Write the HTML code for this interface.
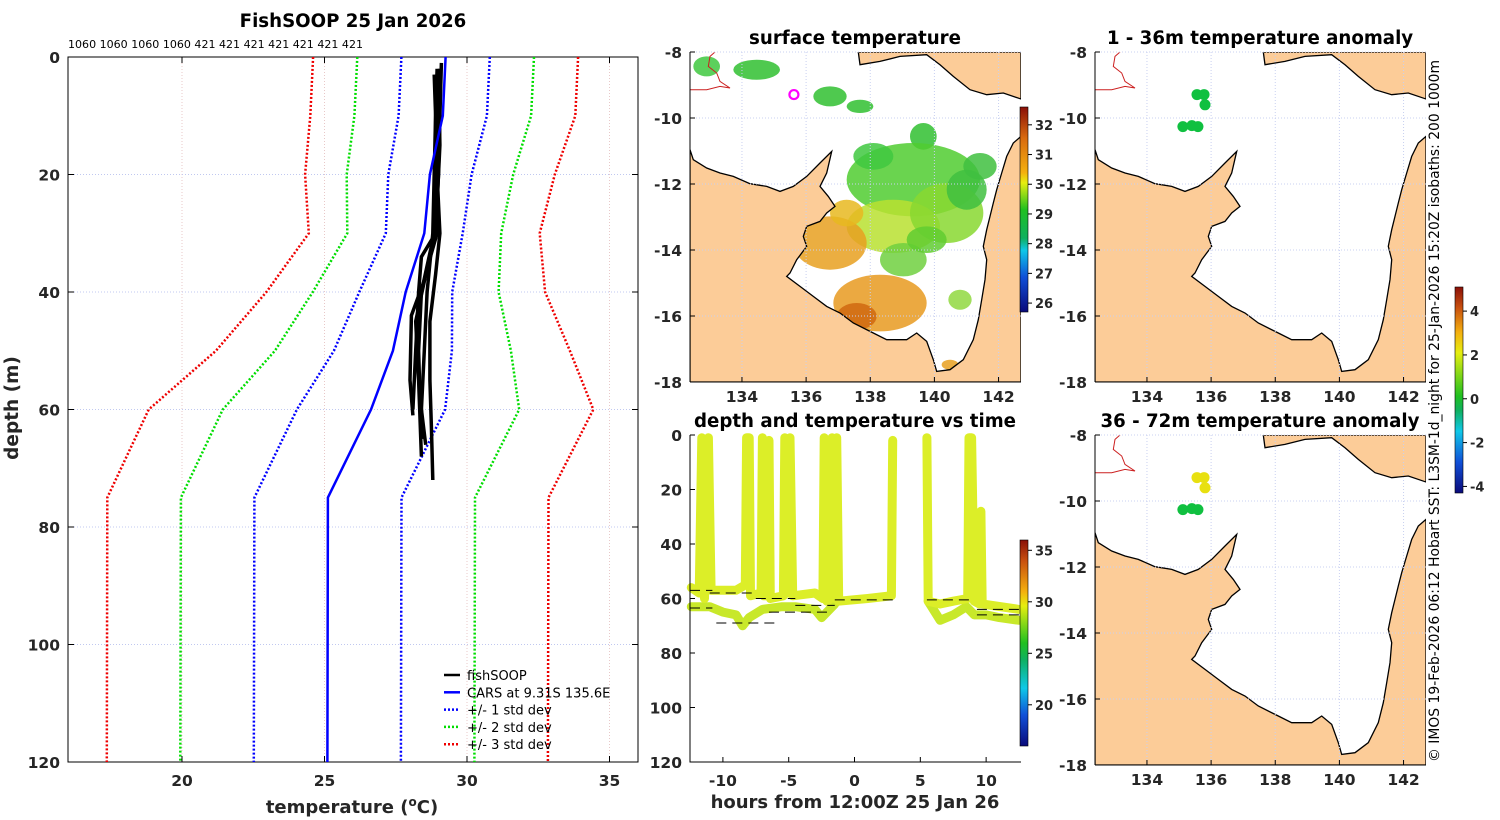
<!DOCTYPE html>
<html><head><meta charset="utf-8"><style>
html,body{margin:0;padding:0;background:#fff;}
svg{display:block;font-family:"DejaVu Sans","Liberation Sans",sans-serif;}
</style></head><body>
<svg id="fig" width="1500" height="820" viewBox="0 0 1500 820" xmlns="http://www.w3.org/2000/svg">
<defs>
<linearGradient id="sstGrad" x1="0" y1="1" x2="0" y2="0">
<stop offset="0" stop-color="#0a0a7a"/><stop offset="0.17" stop-color="#1050d8"/><stop offset="0.3" stop-color="#10c8e8"/><stop offset="0.36" stop-color="#10b060"/><stop offset="0.5" stop-color="#20c020"/><stop offset="0.63" stop-color="#e6ee10"/><stop offset="0.68" stop-color="#f4b010"/><stop offset="0.85" stop-color="#d86a10"/><stop offset="1" stop-color="#8a1008"/>
</linearGradient>
<linearGradient id="tGrad" x1="0" y1="1" x2="0" y2="0">
<stop offset="0" stop-color="#0a0a7a"/><stop offset="0.15" stop-color="#1050d8"/><stop offset="0.28" stop-color="#10c8e8"/><stop offset="0.42" stop-color="#10b060"/><stop offset="0.5" stop-color="#20c020"/><stop offset="0.68" stop-color="#e6ee10"/><stop offset="0.75" stop-color="#f4b010"/><stop offset="0.9" stop-color="#c85010"/><stop offset="1" stop-color="#8a1008"/>
</linearGradient>
<linearGradient id="aGrad" x1="0" y1="1" x2="0" y2="0">
<stop offset="0" stop-color="#0a0a7a"/><stop offset="0.15" stop-color="#1050d8"/><stop offset="0.3" stop-color="#10c8e8"/><stop offset="0.4" stop-color="#10b060"/><stop offset="0.47" stop-color="#20c020"/><stop offset="0.68" stop-color="#e6ee10"/><stop offset="0.78" stop-color="#f4b010"/><stop offset="0.9" stop-color="#c85010"/><stop offset="1" stop-color="#8a1008"/>
</linearGradient>
<clipPath id="clipMain"><rect x="68" y="57" width="570" height="705"/></clipPath>
<clipPath id="clipMap"><rect x="0" y="0" width="331" height="330"/></clipPath>
</defs>
</svg>
<script>
// ---------- main profile data ----------
const carsDepth = [0,10,20,30,40,50,60,75,120];
const carsMean  = [29.25,29.15,28.7,28.5,27.85,27.4,26.63,25.12,25.1];
const carsSd    = [1.55,1.55,1.46,1.35,1.63,2.07,2.6,2.58,2.58];
const prof1D=[2,10,20,30,40,50,60,65], prof1T=[28.95,28.9,28.85,28.8,28.6,28.5,28.4,28.45];
const prof2D=[1,10,20,30,34,40,50,60], prof2T=[29.1,29.05,29.0,28.9,28.4,28.3,28.2,28.1];
const prof3D=[3,10,20,30,36,45,55,68], prof3T=[28.85,28.9,28.9,28.95,28.6,28.2,28.3,28.4];
const prof4D=[2,15,25,32,38,44,55,61], prof4T=[29.0,29.05,28.95,28.8,28.5,28.05,28.0,28.1];
const prof5D=[4,20,30,37,45,55,63,72], prof5T=[28.9,28.95,29.05,28.9,28.7,28.7,28.75,28.8];
const prof6D=[2,10,20,30,40,50,58,66], prof6T=[29.05,29.0,28.9,28.85,28.4,28.3,28.35,28.55];
const tempTicks=[20,25,30,35];
const depthTicks=[0,20,40,60,80,100,120];
const topCounts=["1060","1060","1060","1060","421","421","421","421","421","421","421"];
// ---------- time plot data ----------
const traceAH=[-12.4,-11.8,-11.6,-11.4,-11.1,-10.9,-9,-8.3,-8.2,-8.0,-7.9,-7.1,-7.0,-6.9,-6.6,-6.5,-6.4,-5.4,-5.3,-5.1,-4.9,-4.7,-3,-2.4,-2.3,-2.1,-1.8,-1.7,-1.5,-1.35,-1.2,1,2.8,2.9];
const traceAD=[56,58,1,60,1,57,57,55,1,1,59,58,1,59,59,2,60,59,1,58,1,59,58,60,1,61,60,1,60,1,61,60,59,2];
const traceBH=[5.5,5.6,6.5,7.5,8.6,8.7,8.9,9.1,9.5,9.6,9.7,12.5];
const traceBD=[1,61,62,61,60,1,1,61,62,28,62,64];
const traceCH=[-12.4,-11,-10,-9,-8.5,-8,-7,-5.5,-4.5,-3,-2.5,-1.5];
const traceCD=[63,63,65,66,70,67,64,63,63,64,67,62];
const traceEH=[5.6,6.5,7.5,8.5,9.1,10,11,12.5];
const traceED=[61,68,66,63,66,66,67,68];
const dashH1=[-12.5,-12.5,-11,-10.5,-7.5,-6.5,-4.5,-1.5,5.5,9.3,9.3];
const dashH2=[-10.8,-10.8,-7.5,-6,-4.5,-2,-1.5,3,9,12.5,12.5];
const dashD=[57,63.5,58,69,60,65,62.5,60.5,60.5,64,66];
const hourTicks=[-10,-5,0,5,10];
// ---------- map data ----------
const lonTicks=[134,136,138,140,142];
const latTicks=[-8,-10,-12,-14,-16,-18];
const sstTicks=[26,27,28,29,30,31,32];
const tcTicks=[20,25,30,35];
const anomTicks=[-4,-2,0,2,4];
const dotLon=[135.56,135.78,135.81,135.12,135.4,135.59];
const dotLat=[-9.29,-9.29,-9.6,-10.26,-10.23,-10.26];
const anomUpper=[0.2,0.2,0.2,0.1,0.2,0.1];
const anomLower=[2.1,2.1,2.2,0.2,0.3,0.2];
const shipLon=135.62, shipLat=-9.29;

const NS='http://www.w3.org/2000/svg';
const svg=document.getElementById('fig');
function mk(tag,attrs,parent){const e=document.createElementNS(NS,tag);for(const k in attrs)e.setAttribute(k,attrs[k]);(parent||svg).appendChild(e);return e;}
function txt(s,attrs,parent){const e=mk('text',attrs,parent);e.textContent=s;return e;}

// ===== MAIN PROFILE PLOT =====
const X0=68,X1=638,Y0=57,Y1=762,T0=16,T1=36;
const xT=t=>X0+(t-T0)/(T1-T0)*(X1-X0);
const yD=d=>Y0+d/120*(Y1-Y0);
let e;
e=txt('FishSOOP 25 Jan 2026',{x:353,y:27,'text-anchor':'middle','font-size':18.2,'font-weight':'bold'});


e=txt(topCounts.join(' '),{x:68,y:48,'font-size':11,textLength:295,lengthAdjust:'spacingAndGlyphs'});


tempTicks.forEach(t=>{
  e=mk('line',{x1:xT(t),x2:xT(t),y1:Y0,y2:Y1,stroke:'#e8c8c8','stroke-width':1,'stroke-dasharray':'1,2'});
  
  
  e=mk('line',{x1:xT(t),x2:xT(t),y1:Y1,y2:Y1-6,stroke:'#000'});
  
  
  e=mk('line',{x1:xT(t),x2:xT(t),y1:Y0,y2:Y0+6,stroke:'#000'});
  
  
  e=txt(t,{x:xT(t),y:786,'text-anchor':'middle','font-size':15.5,'font-weight':'bold',fill:'#262626'});
  
  
});
depthTicks.forEach(d=>{
  e=mk('line',{x1:X0,x2:X1,y1:yD(d),y2:yD(d),stroke:'#c0c8f0','stroke-width':1,'stroke-dasharray':'1,2'});
  
  
  e=mk('line',{x1:X0,x2:X0+6,y1:yD(d),y2:yD(d),stroke:'#000'});
  
  
  e=mk('line',{x1:X1,x2:X1-6,y1:yD(d),y2:yD(d),stroke:'#000'});
  
  
  e=txt(d,{x:60,y:yD(d)+6,'text-anchor':'end','font-size':15.5,'font-weight':'bold',fill:'#262626'});
  
  
});
e=mk('rect',{x:X0,y:Y0,width:X1-X0,height:Y1-Y0,fill:'none',stroke:'#000'});


e=txt('',{x:352,y:813,'text-anchor':'middle','font-size':18,'font-weight':'bold',fill:'#262626'});
e.innerHTML='temperature (<tspan dy="-7" font-size="12">o</tspan><tspan dy="7">C)</tspan>';


e=txt('depth (m)',{x:18,y:408,'text-anchor':'middle','font-size':18.5,'font-weight':'bold',fill:'#262626',transform:'rotate(-90 18 408)'});


const gMain=mk('g',{'clip-path':'url(#clipMain)'});


function pl(ts,ds){return ts.map((t,i)=>xT(t).toFixed(1)+','+yD(ds[i]).toFixed(1)).join(' ');}
const sdCols={1:'#0000ff',2:'#00dd00',3:'#ee0000'};
[1,2,3].forEach(k=>{
  [-1,1].forEach(s=>{
    e=mk('polyline',{points:pl(carsMean.map((m,i)=>m+s*k*carsSd[i]),carsDepth),fill:'none',stroke:sdCols[k],'stroke-width':2.5,'stroke-dasharray':'2,2'},gMain);
    
    
  });
});
[[prof1T,prof1D],[prof2T,prof2D],[prof3T,prof3D],[prof4T,prof4D],[prof5T,prof5D],[prof6T,prof6D]].forEach((p,i)=>{
  e=mk('polyline',{points:pl(p[0],p[1]),fill:'none',stroke:'#000','stroke-width':3.5,'stroke-linejoin':'round'},gMain);
  
  
});
e=mk('polyline',{points:pl(carsMean,carsDepth),fill:'none',stroke:'#0000ff','stroke-width':2.5},gMain);


const legItems=[['fishSOOP','#000',null],['CARS at 9.31S 135.6E','#0000ff',null],['+/- 1 std dev','#0000ff','2,2'],['+/- 2 std dev','#00dd00','2,2'],['+/- 3 std dev','#ee0000','2,2']];
const gLeg=mk('g',{});


legItems.forEach((it,i)=>{
  const y=675+i*17.3;
  e=mk('line',{x1:444,x2:460,y1:y,y2:y,stroke:it[1],'stroke-width':2.5,'stroke-dasharray':it[2]||'none'},gLeg);
  
  
  e=txt(it[0],{x:467,y:y+5,'font-size':13},gLeg);
  
  
});

// ===== MAPS =====
const MW=331,MH=330,LON0=132.38,LON1=142.7,LAT0=-8,LAT1=-18;
const mx=l=>(l-LON0)/(LON1-LON0)*MW;
const my=l=>(l-LAT0)/(LAT1-LAT0)*MH;
function zc(pts){return pts.map(p=>(p[0]/3-50).toFixed(1)+','+(p[1]/3-12.3).toFixed(1)).join(' ');}
const mainland=[[150,330],[160,360],[200,385],[240,400],[280,410],[330,432],[380,440],[420,455],[460,440],[500,410],[540,370],[575,335],[560,400],[540,440],[565,470],[585,500],[560,520],[540,545],[500,560],[490,590],[500,620],[470,660],[450,700],[440,710],[480,740],[520,770],[560,800],[600,820],[640,850],[700,880],[740,900],[800,900],[830,880],[860,905],[880,960],[890,995],[930,990],[970,960],[1000,900],[1015,840],[1025,780],[1035,720],[1040,660],[1030,620],[1040,570],[1050,530],[1060,490],[1070,450],[1085,400],[1100,350],[1120,310],[1143,290],[1143,1027],[150,1027]];
const guinea=[[655,37],[660,75],[720,65],[780,50],[860,45],[900,75],[940,110],[990,150],[1040,165],[1090,160],[1143,178],[1143,37]];
const redRiver=[[150,150],[200,150],[240,140],[270,145],[240,125],[230,100],[205,80],[210,50],[225,37]];
const sstBlobs=[[350,90,70,30,'#30c030'],[570,170,50,30,'#30c030'],[660,200,40,20,'#30c030'],[850,290,40,40,'#30c030'],[200,80,40,30,'#40c840'],
 [820,420,200,110,'#50cc30'],[760,560,140,80,'#b8e030'],[920,520,110,90,'#88d830'],[1020,380,50,40,'#40c040'],
 [570,610,110,80,'#e8a020'],[620,520,50,40,'#e8b820'],[720,790,140,85,'#e89a20'],[650,830,60,40,'#d06810'],[960,780,35,30,'#90d840'],[790,660,70,50,'#70d040'],[930,975,25,15,'#e8a020'],
 [700,350,60,40,'#40c840'],[980,450,60,60,'#40c040'],[860,600,60,40,'#60cc30']];
function drawMap(ox,oy,name,kind){
  const g=mk('g',{transform:'translate('+ox+','+oy+')'});
  
  
  const gc=mk('g',{'clip-path':'url(#clipMap)'},g);
  if(kind==='sst'){
    sstBlobs.forEach(b=>{
      e=mk('ellipse',{cx:b[0]/3-50,cy:b[1]/3-12.3,rx:b[2]/3,ry:b[3]/3,fill:b[4],opacity:0.85},gc);
      
      
    });
  }
  [mainland,guinea].forEach((poly,i)=>{
    e=mk('polygon',{points:zc(poly),fill:'#fccc98',stroke:'#000','stroke-width':1.3},gc);
    
    
  });
  e=mk('polyline',{points:zc(redRiver),fill:'none',stroke:'#cc2020','stroke-width':1},gc);
  
  
  lonTicks.forEach(l=>{
    e=mk('line',{x1:mx(l),x2:mx(l),y1:0,y2:MH,stroke:'#c8d0f0','stroke-dasharray':'1,2'},g);
    
    
    e=mk('line',{x1:mx(l),x2:mx(l),y1:MH,y2:MH-5,stroke:'#000'},g);
    
    
    e=txt(l,{x:mx(l),y:MH+20,'text-anchor':'middle','font-size':15.5,'font-weight':'bold',fill:'#262626'},g);
    
    
  });
  latTicks.forEach(l=>{
    e=mk('line',{x1:0,x2:MW,y1:my(l),y2:my(l),stroke:'#c8d0f0','stroke-dasharray':'1,2'},g);
    
    
    e=mk('line',{x1:0,x2:5,y1:my(l),y2:my(l),stroke:'#000'},g);
    
    
    e=txt(l,{x:-8,y:my(l)+6,'text-anchor':'end','font-size':15.5,'font-weight':'bold',fill:'#262626'},g);
    
    
  });
  e=mk('line',{x1:0,x2:0,y1:0,y2:MH,stroke:'#000'},g);
  
  
  e=mk('line',{x1:0,x2:MW,y1:MH,y2:MH,stroke:'#000'},g);
  
  
  return g;
}
function anomColor(v){const f=(v+4.3)/9.4;if(f>0.62)return '#e8e010';if(f>0.5)return '#80d820';return '#10c040';}
const g1=drawMap(690,52,'surface-temperature-map','sst');
e=mk('circle',{cx:mx(shipLon),cy:my(shipLat),r:4.5,fill:'none',stroke:'#ff00ff','stroke-width':2.2},g1);


const g2=drawMap(1095,52,'anomaly-map-1-36m','anom');
dotLon.forEach((l,i)=>{
  e=mk('circle',{cx:mx(l),cy:my(dotLat[i]),r:5.5,fill:anomColor(anomUpper[i])},g2);
  
  
});
const g3=drawMap(1095,435,'anomaly-map-36-72m','anom');
dotLon.forEach((l,i)=>{
  e=mk('circle',{cx:mx(l),cy:my(dotLat[i]),r:5.5,fill:anomColor(anomLower[i])},g3);
  
  
});
[['surface temperature',855,44],['depth and temperature vs time',855,427],['1 - 36m temperature anomaly',1260,44],['36 - 72m temperature anomaly',1260,427]].forEach(t=>{
  e=txt(t[0],{x:t[1],y:t[2],'text-anchor':'middle','font-size':18.2,'font-weight':'bold'});
  
  
});

// ===== TIME PLOT =====
const TX0=690,TX1=1021,TY0=435,TY1=762,H0=-12.5,H1=12.65;
const hx=h=>TX0+(h-H0)/(H1-H0)*(TX1-TX0);
const dy=d=>TY0+d/120*(TY1-TY0);
function tp(hs,ds){return hs.map((h,i)=>hx(h).toFixed(1)+','+dy(ds[i]).toFixed(1)).join(' ');}
[[traceCH,traceCD],[traceEH,traceED],[traceAH,traceAD],[traceBH,traceBD]].forEach((s,i)=>{
  e=mk('polyline',{points:tp(s[0],s[1]),fill:'none',stroke:i<2?'#c8e82a':'#dcee28','stroke-width':9,'stroke-linejoin':'round','stroke-linecap':'round'});
  
  
});
dashD.forEach((d,i)=>{
  e=mk('line',{x1:hx(dashH1[i]),x2:hx(dashH2[i]),y1:dy(d),y2:dy(d),stroke:'#000','stroke-width':1,'stroke-dasharray':'10,6'});
  
  
});
depthTicks.forEach(d=>{
  e=mk('line',{x1:TX0,x2:TX0+5,y1:dy(d),y2:dy(d),stroke:'#000'});
  
  
  e=txt(d,{x:682,y:dy(d)+6,'text-anchor':'end','font-size':15.5,'font-weight':'bold',fill:'#262626'});
  
  
});
hourTicks.forEach(h=>{
  e=mk('line',{x1:hx(h),x2:hx(h),y1:TY1,y2:TY1-5,stroke:'#000'});
  
  
  e=txt(h,{x:hx(h),y:786,'text-anchor':'middle','font-size':15.5,'font-weight':'bold',fill:'#262626'});
  
  
});
e=mk('polyline',{points:TX0+','+TY0+' '+TX0+','+TY1+' '+TX1+','+TY1,fill:'none',stroke:'#000'});


e=txt('hours from 12:00Z 25 Jan 26',{x:855,y:808,'text-anchor':'middle','font-size':18,'font-weight':'bold',fill:'#262626'});



// ===== COLORBARS =====
function colorbar(x,y0,y1,grad,vmin,vmax,ticks,name){
  e=mk('rect',{x:x,y:y0,width:8,height:y1-y0,fill:'url(#'+grad+')',stroke:'#000','stroke-width':0.6});
  
  
  ticks.forEach(t=>{
    const y=y1-(t-vmin)/(vmax-vmin)*(y1-y0);
    e=mk('line',{x1:x+8,x2:x+12,y1:y,y2:y,stroke:'#000'});
    
    
    e=txt(t,{x:x+15,y:y+5,'font-size':13,'font-weight':'bold',fill:'#262626'});
    
    
  });
}
colorbar(1020,107,312,'sstGrad',25.7,32.6,sstTicks,'sst-colorbar');
colorbar(1020,540,746,'tGrad',16,36,tcTicks,'temp-colorbar');
colorbar(1455,287,493,'aGrad',-4.3,5.1,anomTicks,'anomaly-colorbar');
e=txt('© IMOS 19-Feb-2026 06:12 Hobart SST: L3SM-1d_night for 25-Jan-2026 15:20Z isobaths: 200  1000m',{x:1439,y:411,'text-anchor':'middle','font-size':14,textLength:702,lengthAdjust:'spacingAndGlyphs',transform:'rotate(-90 1439 411)'});


</script>
</body></html>
